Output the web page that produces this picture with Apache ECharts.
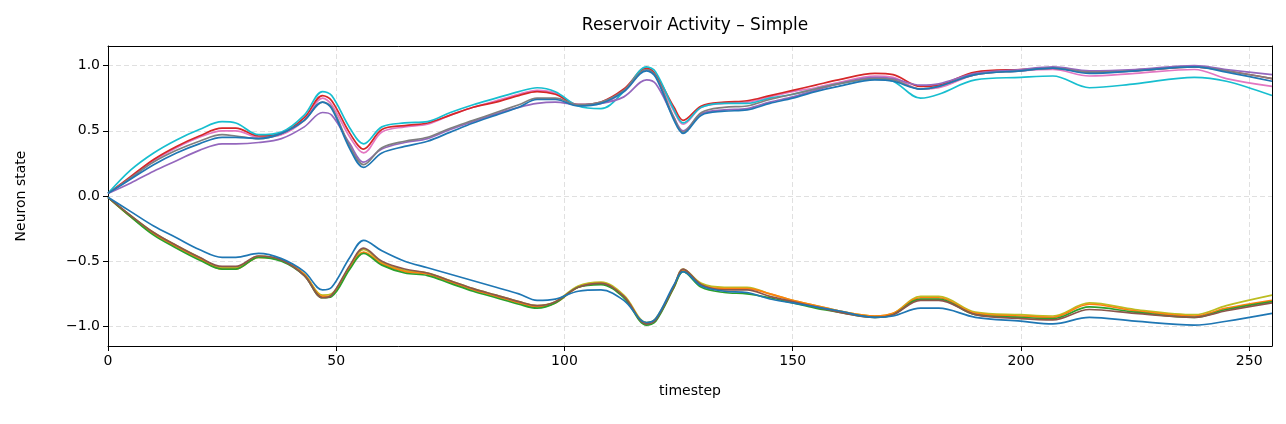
<!DOCTYPE html>
<html><head><meta charset="utf-8">
<script src="https://cdn.jsdelivr.net/npm/echarts@6/dist/echarts.min.js"></script>
<style>html,body{margin:0;background:#fff}#c{width:1286px;height:424px}</style></head>
<body><div id="c"></div>
<script>
const T=[0,5,10,15,20,25,28,33,38,43,47,49,53,56,60,65,70,75,80,85,90,94,98,103,108,113,118,120,124,126,130,135,140,145,150,155,160,168,172,178,182,190,200,207,215,225,238,245,255];
const upRed=[0.02,0.15,0.28,0.38,0.46,0.52,0.52,0.46,0.48,0.6,0.77,0.73,0.48,0.36,0.51,0.54,0.56,0.62,0.68,0.72,0.77,0.8,0.78,0.70,0.72,0.82,0.98,0.93,0.68,0.58,0.69,0.72,0.73,0.77,0.81,0.85,0.89,0.94,0.93,0.84,0.85,0.95,0.97,0.98,0.95,0.96,0.99,0.96,0.90];
const upPink=[0.02,0.14,0.27,0.37,0.45,0.50,0.50,0.45,0.47,0.58,0.75,0.70,0.45,0.33,0.49,0.53,0.55,0.62,0.68,0.73,0.78,0.81,0.79,0.70,0.71,0.80,0.97,0.92,0.65,0.55,0.68,0.71,0.72,0.76,0.80,0.83,0.87,0.92,0.91,0.82,0.83,0.93,0.96,0.97,0.92,0.94,0.97,0.90,0.84];
const upCyan=[0.02,0.2,0.33,0.43,0.51,0.57,0.56,0.47,0.49,0.62,0.8,0.77,0.52,0.40,0.53,0.56,0.57,0.64,0.70,0.75,0.80,0.83,0.80,0.69,0.67,0.80,0.99,0.95,0.66,0.56,0.68,0.71,0.71,0.75,0.78,0.82,0.86,0.9,0.88,0.75,0.78,0.89,0.91,0.92,0.83,0.86,0.91,0.88,0.77];
const upPurple=[0.02,0.1,0.19,0.27,0.35,0.40,0.40,0.41,0.44,0.53,0.64,0.62,0.40,0.26,0.36,0.41,0.44,0.51,0.57,0.63,0.68,0.71,0.72,0.70,0.71,0.76,0.89,0.86,0.6,0.5,0.63,0.66,0.67,0.72,0.76,0.81,0.86,0.91,0.9,0.85,0.86,0.94,0.97,0.99,0.96,0.97,1.0,0.97,0.93];
const upGray=[0.02,0.14,0.26,0.35,0.42,0.47,0.46,0.44,0.48,0.58,0.72,0.68,0.38,0.24,0.37,0.42,0.45,0.52,0.58,0.64,0.70,0.75,0.75,0.70,0.72,0.81,0.97,0.92,0.6,0.49,0.64,0.68,0.69,0.74,0.78,0.82,0.86,0.9,0.89,0.82,0.84,0.93,0.96,0.98,0.95,0.96,0.99,0.96,0.90];
const upBlue=[0.02,0.13,0.24,0.33,0.40,0.45,0.45,0.44,0.48,0.58,0.72,0.67,0.36,0.22,0.33,0.38,0.42,0.49,0.56,0.62,0.68,0.74,0.74,0.69,0.71,0.80,0.96,0.91,0.58,0.48,0.62,0.65,0.66,0.71,0.75,0.80,0.84,0.89,0.88,0.82,0.84,0.93,0.96,0.98,0.94,0.96,0.99,0.95,0.88];
const loOrange=[-0.01,-0.16,-0.29,-0.39,-0.48,-0.56,-0.56,-0.47,-0.49,-0.6,-0.77,-0.76,-0.55,-0.43,-0.52,-0.58,-0.6,-0.66,-0.72,-0.77,-0.82,-0.85,-0.82,-0.7,-0.67,-0.77,-0.98,-0.95,-0.7,-0.57,-0.68,-0.71,-0.71,-0.75,-0.8,-0.84,-0.88,-0.92,-0.9,-0.78,-0.78,-0.9,-0.92,-0.93,-0.83,-0.88,-0.92,-0.86,-0.80];
const loOlive=[-0.01,-0.15,-0.28,-0.38,-0.47,-0.55,-0.55,-0.46,-0.49,-0.6,-0.76,-0.75,-0.54,-0.41,-0.51,-0.57,-0.59,-0.65,-0.71,-0.76,-0.81,-0.84,-0.81,-0.69,-0.66,-0.76,-0.97,-0.94,-0.69,-0.56,-0.67,-0.70,-0.70,-0.75,-0.8,-0.84,-0.88,-0.92,-0.9,-0.77,-0.77,-0.89,-0.91,-0.92,-0.82,-0.87,-0.91,-0.84,-0.76];
const loGreen=[-0.01,-0.16,-0.30,-0.40,-0.49,-0.56,-0.56,-0.47,-0.50,-0.61,-0.78,-0.77,-0.56,-0.44,-0.53,-0.59,-0.61,-0.67,-0.73,-0.78,-0.83,-0.86,-0.82,-0.70,-0.68,-0.78,-0.99,-0.96,-0.70,-0.58,-0.70,-0.74,-0.75,-0.78,-0.82,-0.86,-0.89,-0.93,-0.91,-0.79,-0.79,-0.91,-0.93,-0.94,-0.85,-0.89,-0.93,-0.87,-0.81];
const loBrown=[-0.01,-0.15,-0.28,-0.38,-0.47,-0.54,-0.54,-0.46,-0.49,-0.61,-0.78,-0.76,-0.53,-0.40,-0.50,-0.56,-0.59,-0.65,-0.71,-0.76,-0.81,-0.84,-0.81,-0.70,-0.67,-0.77,-0.98,-0.95,-0.69,-0.56,-0.68,-0.72,-0.72,-0.77,-0.81,-0.85,-0.89,-0.93,-0.91,-0.80,-0.80,-0.91,-0.94,-0.95,-0.87,-0.90,-0.93,-0.88,-0.82];
const loBlue=[-0.01,-0.12,-0.23,-0.32,-0.41,-0.47,-0.47,-0.44,-0.48,-0.58,-0.72,-0.70,-0.47,-0.34,-0.42,-0.50,-0.55,-0.60,-0.65,-0.70,-0.75,-0.80,-0.79,-0.73,-0.72,-0.80,-0.97,-0.94,-0.68,-0.58,-0.69,-0.73,-0.74,-0.79,-0.82,-0.85,-0.88,-0.93,-0.92,-0.86,-0.86,-0.93,-0.96,-0.98,-0.93,-0.96,-0.99,-0.96,-0.90];
const xTicks=[0,50,100,150,200,250];
const yTicks=[-1.0,-0.5,0.0,0.5,1.0];

const lines=[
 [loOlive,'#bcbd22'],[loOrange,'#ff7f0e'],[loGreen,'#2ca02c'],[loBrown,'#8c564b'],[loBlue,'#1f77b4'],
 [upPink,'#e377c2'],[upRed,'#d62728'],[upCyan,'#17becf'],[upPurple,'#9467bd'],[upGray,'#7f7f7f'],[upBlue,'#1f77b4']
];
const font='DejaVu Sans';
const gridLine=(vals)=>({show:true,customValues:vals,lineStyle:{color:'#dddddd',type:[5,3],width:0.9}});
const chart=echarts.init(document.getElementById('c'));
chart.setOption({
 animation:false,
 title:{text:'Reservoir Activity – Simple',left:690,top:12,textAlign:'center',textStyle:{fontFamily:font,fontSize:17,fontWeight:'normal',color:'#000'}},
 grid:{left:108,right:14,top:46,bottom:78},
 xAxis:[{type:'value',min:0,max:255,name:'timestep',nameLocation:'middle',nameGap:38,
   nameTextStyle:{fontFamily:font,fontSize:14,color:'#000'},
   axisLine:{onZero:false,lineStyle:{color:'#000'}},
   axisTick:{show:true,length:5,customValues:xTicks,lineStyle:{color:'#000'}},
   axisLabel:{fontFamily:font,fontSize:14,color:'#000',customValues:xTicks,margin:8},
   splitLine:gridLine(xTicks)},
  {type:'value',position:'top',min:0,max:255,show:true,axisLine:{show:true,onZero:false,lineStyle:{color:'#000'}},axisTick:{show:false},axisLabel:{show:false},splitLine:{show:false}}],
 yAxis:[{type:'value',min:-1.15,max:1.15,name:'Neuron state',nameLocation:'middle',nameGap:80,
   nameTextStyle:{fontFamily:font,fontSize:14,color:'#000'},
   axisLine:{show:true,onZero:false,lineStyle:{color:'#000'}},
   axisTick:{show:true,length:5,lineStyle:{color:'#000'},customValues:yTicks},
   axisLabel:{fontFamily:font,fontSize:14,color:'#000',customValues:yTicks,formatter:v=>v.toFixed(1).replace('-','−')},
   splitLine:gridLine(yTicks)},
  {type:'value',position:'right',min:-1.15,max:1.15,show:true,axisLine:{show:true,onZero:false,lineStyle:{color:'#000'}},axisTick:{show:false},axisLabel:{show:false},splitLine:{show:false}}],
 series:lines.map(([d,c])=>({type:'line',data:T.map((t,i)=>[t,d[i]]),smooth:0.35,showSymbol:false,
   lineStyle:{color:c,width:1.7},itemStyle:{color:c}}))
});
</script></body></html>
